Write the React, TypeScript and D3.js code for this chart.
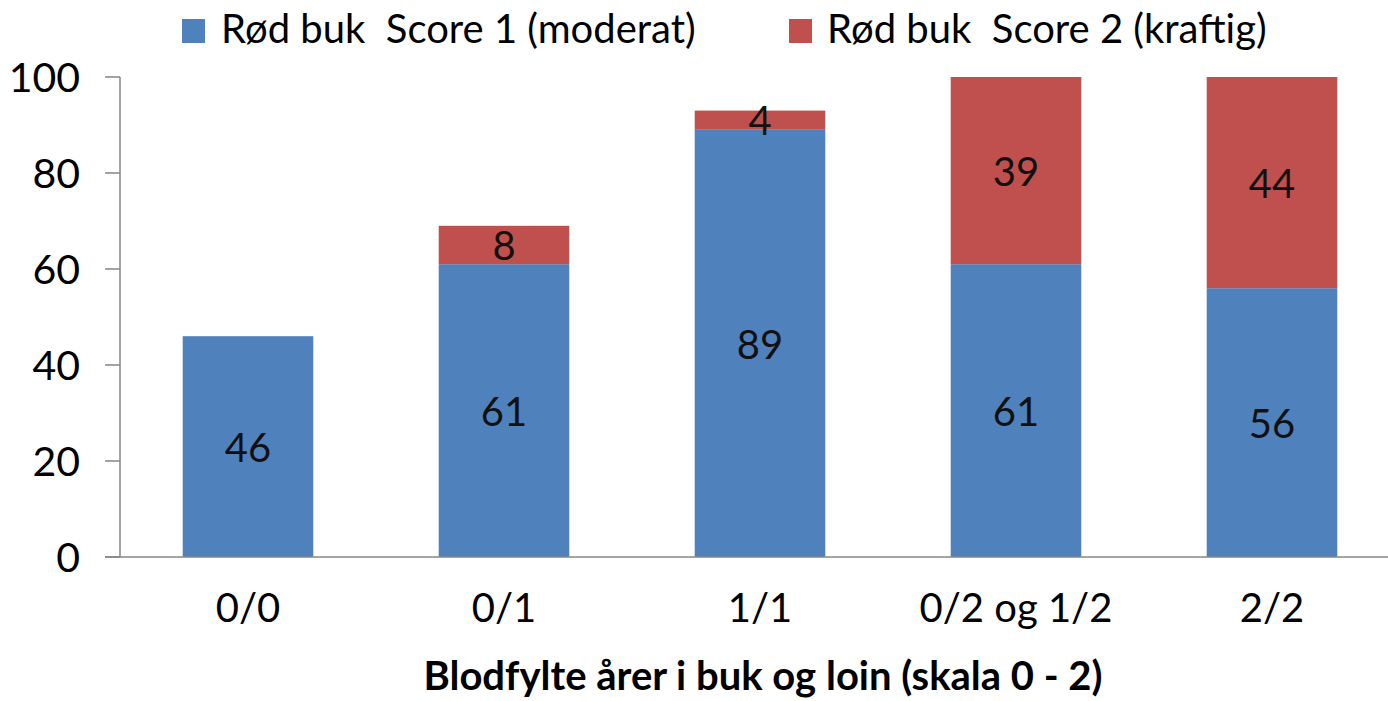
import React from "react";
import * as d3 from "d3";

// data
const categories = ["0/0", "0/1", "1/1", "0/2 og 1/2", "2/2"];
const score1 = [46, 61, 89, 61, 56];
const score2 = [0, 8, 4, 39, 44];
const seriesNames = ["Rød buk  Score 1 (moderat)", "Rød buk  Score 2 (kraftig)"];
const yTicks = [0, 20, 40, 60, 80, 100];
const xTitle = "Blodfylte årer i buk og loin (skala 0 - 2)";

const width = 1388;
const height = 701;
const marginLeft = 120;
const marginTop = 77;
const marginBottom = 144;
const colors = ["#4F81BD", "#C0504D"];
const font = "Lato, 'Open Sans', sans-serif";

// keep the double space in the legend labels
const keepSpaces = (s: string) => s.replace(/  /g, " \u00A0");

export default function App() {
  const x = d3
    .scaleBand()
    .domain(categories)
    .range([marginLeft, marginLeft + 5 * 256])
    .paddingInner(0.49)
    .paddingOuter(0.245);
  const y = d3.scaleLinear().domain([0, 100]).range([height - marginBottom, marginTop]);

  const rows = categories.map((c, i) => ({ cat: c, s1: score1[i], s2: score2[i] }));
  const stacked = d3.stack<any>().keys(["s1", "s2"])(rows);

  return (
    <svg width={width} height={height} style={{ position: "absolute", left: 0, top: 0, background: "#fff" }}>
      {/* legend */}
      <g fontFamily={font} fontSize={40} fill="#000">
        <rect x={182} y={19} width={23} height={24} fill={colors[0]} />
        <text x={221} y={43}>{keepSpaces(seriesNames[0])}</text>
        <rect x={789} y={19} width={23} height={24} fill={colors[1]} />
        <text x={827} y={43}>{keepSpaces(seriesNames[1])}</text>
      </g>

      {/* bars */}
      {stacked.map((layer, li) => (
        <g key={li} fill={colors[li]}>
          {layer.map((d, i) =>
            d[1] - d[0] > 0 ? (
              <rect
                key={i}
                x={x(categories[i])}
                y={y(d[1])}
                width={x.bandwidth()}
                height={y(d[0]) - y(d[1])}
              />
            ) : null
          )}
        </g>
      ))}

      {/* data labels */}
      <g fontFamily={font} fontSize={40} fill="#111" textAnchor="middle">
        {stacked.map((layer, li) =>
          layer.map((d, i) =>
            d[1] - d[0] > 0 ? (
              <text
                key={li + "-" + i}
                x={(x(categories[i]) as number) + x.bandwidth() / 2}
                y={(y(d[0]) + y(d[1])) / 2}
                dy="0.38em"
              >
                {d[1] - d[0]}
              </text>
            ) : null
          )
        )}
      </g>

      {/* y axis */}
      <line x1={marginLeft} x2={marginLeft} y1={y(100)} y2={y(0)} stroke="#868686" strokeWidth={1.5} />
      <g fontFamily={font} fontSize={41} fill="#000" textAnchor="end">
        {yTicks.map((t) => (
          <g key={t}>
            <line x1={marginLeft - 15} x2={marginLeft} y1={y(t)} y2={y(t)} stroke="#868686" strokeWidth={1.5} />
            <text x={marginLeft - 40} y={y(t)} dy="0.36em">{t}</text>
          </g>
        ))}
      </g>

      {/* x axis */}
      <line x1={marginLeft - 15} x2={width} y1={y(0)} y2={y(0)} stroke="#868686" strokeWidth={1.5} />
      <g fontFamily={font} fontSize={40} fill="#000" textAnchor="middle">
        {categories.map((c) => (
          <text key={c} x={(x(c) as number) + x.bandwidth() / 2} y={622}>{c}</text>
        ))}
      </g>
      <text x={763} y={690} fontFamily={font} fontSize={40} fontWeight="bold" textAnchor="middle">
        {xTitle}
      </text>
    </svg>
  );
}
